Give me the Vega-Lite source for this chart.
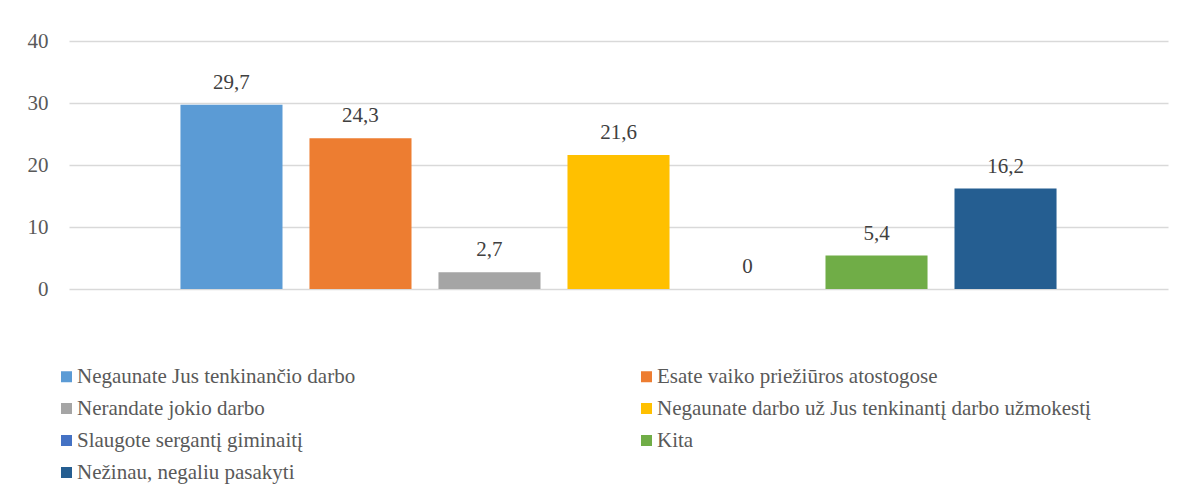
{
  "$schema": "https://vega.github.io/schema/vega-lite/v6.json",
  "width": 1099,
  "height": 248,
  "autosize": {"type": "none"},
  "padding": {"left": 69, "top": 41, "right": 19, "bottom": 205},
  "background": "white",
  "config": {
    "view": {"stroke": null},
    "font": "Liberation Serif",
    "locale": {"number": {"decimal": ",", "thousands": " ", "grouping": [3], "currency": ["", " €"]}}
  },
  "data": {
    "values": [
      {"category": "Negaunate Jus tenkinančio darbo", "value": 29.7},
      {"category": "Esate vaiko priežiūros atostogose", "value": 24.3},
      {"category": "Nerandate jokio darbo", "value": 2.7},
      {"category": "Negaunate darbo už Jus tenkinantį darbo užmokestį", "value": 21.6},
      {"category": "Slaugote sergantį giminaitį", "value": 0},
      {"category": "Kita", "value": 5.4},
      {"category": "Nežinau, negaliu pasakyti", "value": 16.2}
    ]
  },
  "encoding": {
    "x": {
      "field": "category",
      "type": "nominal",
      "sort": null,
      "axis": null,
      "scale": {"paddingInner": 0.209, "paddingOuter": 0.864}
    },
    "y": {
      "field": "value",
      "type": "quantitative",
      "scale": {"domain": [0, 40]},
      "axis": {
        "title": null,
        "values": [0, 10, 20, 30, 40],
        "domain": false,
        "ticks": false,
        "labelPadding": 21,
        "labelFontSize": 21,
        "labelColor": "#595959",
        "labelFont": "Liberation Serif",
        "gridColor": "#d9d9d9",
        "gridWidth": 1.3
      }
    }
  },
  "layer": [
    {
      "mark": {"type": "bar"},
      "encoding": {
        "color": {
          "field": "category",
          "type": "nominal",
          "scale": {
            "domain": [
              "Negaunate Jus tenkinančio darbo",
              "Esate vaiko priežiūros atostogose",
              "Nerandate jokio darbo",
              "Negaunate darbo už Jus tenkinantį darbo užmokestį",
              "Slaugote sergantį giminaitį",
              "Kita",
              "Nežinau, negaliu pasakyti"
            ],
            "range": ["#5B9BD5", "#ED7D31", "#A5A5A5", "#FFC000", "#4472C4", "#70AD47", "#255E91"]
          },
          "legend": {
            "title": null,
            "orient": "none",
            "legendX": -13,
            "legendY": 325,
            "padding": 0,
            "direction": "horizontal",
            "columns": 2,
            "columnPadding": 280,
            "rowPadding": 10,
            "symbolType": "square",
            "symbolSize": 121,
            "symbolStrokeWidth": 0,
            "symbolOpacity": 1,
            "symbolOffset": 0,
            "labelOffset": 0,
            "labelFontSize": 21,
            "labelFont": "Liberation Serif",
            "labelColor": "#595959",
            "labelLimit": 700
          }
        }
      }
    },
    {
      "mark": {
        "type": "text",
        "baseline": "alphabetic",
        "dy": -16,
        "fontSize": 21,
        "font": "Liberation Serif",
        "color": "#404040"
      },
      "encoding": {
        "text": {"field": "value", "type": "quantitative", "format": ".1~f"}
      }
    }
  ]
}
